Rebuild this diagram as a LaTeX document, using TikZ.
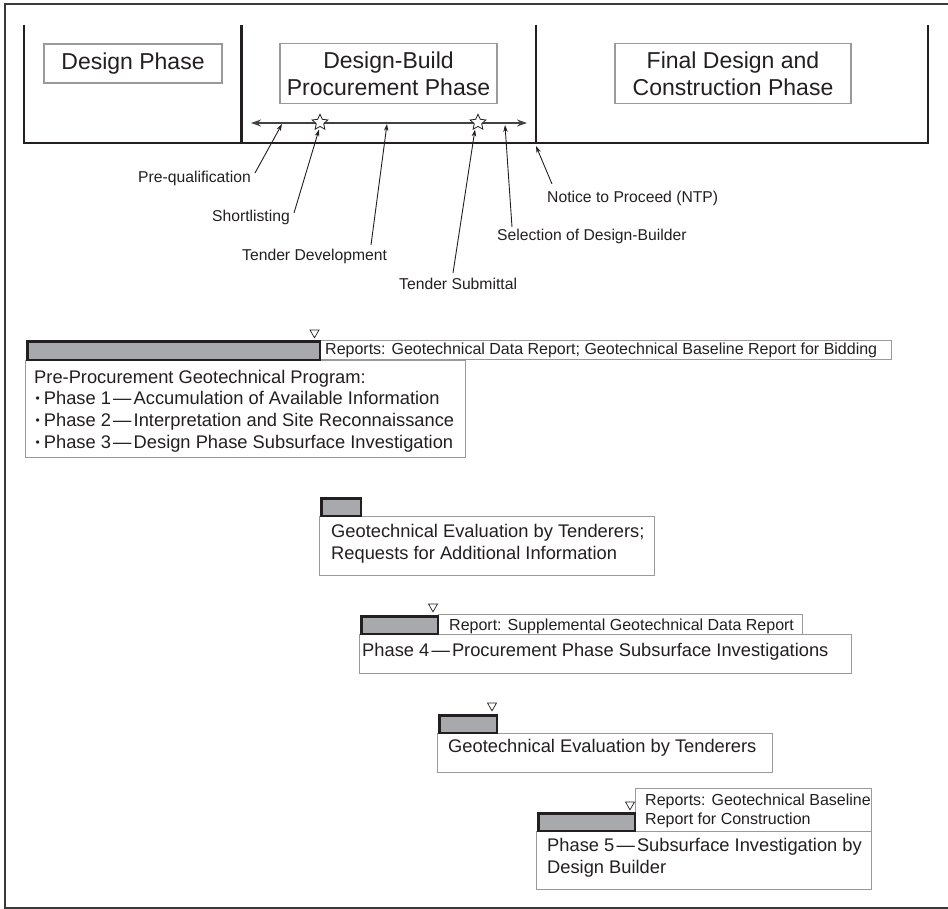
\documentclass[tikz,border=0pt]{standalone}
\usepackage{fontspec}
\setmainfont{Liberation Sans}
\usetikzlibrary{shapes.geometric,arrows.meta}
\definecolor{ink}{HTML}{231F20}
\definecolor{boxgray}{HTML}{9A9A9A}
\definecolor{barfill}{HTML}{A7A9AC}
\definecolor{framegray}{HTML}{3A3A3A}
\newcommand{\dsh}{\hspace{0.12em}—\hspace{0.12em}}
\newcommand{\smbul}{\hspace{1.5pt}{\fontsize{12}{12}\selectfont\raisebox{1.8pt}{•}}\hspace{4pt}}
\begin{document}
\begin{tikzpicture}[x=1pt,y=-1pt,
  hdrline/.style={draw=ink,line width=2.8pt},
  framel/.style={draw=framegray,line width=2pt},
  hdrbox/.style={draw=boxgray,line width=1.2pt,align=center,font=\fontsize{23}{27}\selectfont,text=ink,inner sep=0},
  gbox/.style={draw=boxgray,line width=1.2pt,fill=white,anchor=north west,inner sep=0},
  bar/.style={draw=ink,line width=2.5pt,fill=barfill,anchor=north west,inner sep=0},
  boxtxt/.style={font=\fontsize{18.3}{21.7}\selectfont,text=ink,inner sep=0,anchor=base west},
  reptxt/.style={font=\fontsize{16}{19}\selectfont,text=ink,inner sep=0,anchor=base west},
  lbl/.style={font=\fontsize{15.7}{18}\selectfont,text=ink,inner sep=0},
  leader/.style={draw=ink,line width=0.9pt,-{Stealth[length=7pt,width=4.5pt]}},
  tri/.style={regular polygon,regular polygon sides=3,shape border rotate=180,draw=ink,fill=white,line width=0.7pt,minimum size=10.4pt,inner sep=0},
  starn/.style={star,star points=5,star point ratio=2.1,minimum size=16.5pt,inner sep=0,draw=ink,fill=white,line width=0.8pt}
]
\useasboundingbox (0,0) rectangle (948,909);
% outer frame
\draw[framel] (950,4) -- (5,4) -- (5,907.5) -- (950,907.5);
% header
\draw[hdrline] (24,25) -- (24,143) -- (928,143) -- (928,25);
\draw[hdrline] (241.5,25) -- (241.5,143);
\draw[hdrline] (536,25) -- (536,143);
\node[hdrbox,minimum width=178pt,minimum height=39pt] (dp) at (133,63.5) {Design Phase};
\node[hdrbox,minimum width=217pt,minimum height=60pt] (dbp) at (388.5,73.5) {Design-Build\\Procurement Phase};
\node[hdrbox,minimum width=236pt,minimum height=60pt] (fdc) at (733,73.5) {Final Design and\\Construction Phase};
% timeline
\coordinate (aL) at (251,123);
\coordinate (aR) at (527,123);
\draw[draw=ink!85,line width=1.6pt,{Stealth[length=10pt,width=7pt]}-{Stealth[length=10pt,width=7pt]}] (aL) -- (aR);
\node[starn] (s1) at (320,122.5) {};
\node[starn] (s2) at (478,122.5) {};
% labels
\node[lbl,anchor=base east] (pq) at (251,182.6) {Pre-qualification};
\node[lbl,anchor=base east] (sl) at (290,221.6) {Shortlisting};
\node[lbl,anchor=base west] (td) at (242,260.6) {Tender Development};
\node[lbl,anchor=base west] (ts) at (399,289.6) {Tender Submittal};
\node[lbl,anchor=base west] (sel) at (497,240.6) {Selection of Design-Builder};
\node[lbl,anchor=base west] (ntp) at (547,202.6) {Notice to Proceed (NTP)};
\coordinate (pqS) at (255,173); \coordinate (pqT) at (282,124);
\coordinate (slS) at (294,213); \coordinate (slT) at (319,129.5);
\coordinate (tdS) at (371,245); \coordinate (tdT) at (387,124);
\coordinate (tsS) at (453,273); \coordinate (tsT) at (475,129.5);
\coordinate (selS) at (512,227); \coordinate (selT) at (505,125);
\coordinate (ntpS) at (552,184); \coordinate (ntpT) at (536,146);
\draw[leader] (pqS) -- (pqT);
\draw[leader] (slS) -- (slT);
\draw[leader] (tdS) -- (tdT);
\draw[leader] (tsS) -- (tsT);
\draw[leader] (selS) -- (selT);
\draw[leader] (ntpS) -- (ntpT);
% pre-procurement
\node[gbox,minimum width=571pt,minimum height=19pt] (r1) at (320,340) {};
\node[gbox,minimum width=440pt,minimum height=97pt] (pp) at (25,360) {};
\node[bar,minimum width=292.5pt,minimum height=18.5pt] (b1) at (26.25,340.25) {};
\node[tri] (t1) at (314.5,332.6) {};
\node[reptxt] (r1t) at (325,354.5) {Reports: Geotechnical Data Report; Geotechnical Baseline Report for Bidding};
\node[boxtxt] (pp1) at (34,383.5) {Pre-Procurement Geotechnical Program:};
\node[boxtxt] (pp2) at (34,404.5) {\smbul Phase 1\dsh Accumulation of Available Information};
\node[boxtxt] (pp3) at (34,426.5) {\smbul Phase 2\dsh Interpretation and Site Reconnaissance};
\node[boxtxt] (pp4) at (34,448.5) {\smbul Phase 3\dsh Design Phase Subsurface Investigation};
% evaluation 1
\node[gbox,minimum width=335pt,minimum height=59pt] (e1) at (319,516) {};
\node[bar,minimum width=39.5pt,minimum height=17.5pt] (b2) at (320.25,497.25) {};
\node[boxtxt] (e1a) at (331,537.5) {Geotechnical Evaluation by Tenderers;};
\node[boxtxt] (e1b) at (331,559) {Requests for Additional Information};
% phase 4
\node[gbox,minimum width=364pt,minimum height=20pt] (r3) at (438,614) {};
\node[gbox,minimum width=492pt,minimum height=39pt] (p4) at (359,634) {};
\node[bar,minimum width=76.5pt,minimum height=17.5pt] (b3) at (360.25,615.25) {};
\node[tri] (t3) at (433,606.6) {};
\node[reptxt] (r3t) at (449,630.5) {Report: Supplemental Geotechnical Data Report};
\node[boxtxt] (p4t) at (362,656.5) {Phase 4\dsh Procurement Phase Subsurface Investigations};
% evaluation 2
\node[gbox,minimum width=335pt,minimum height=39pt] (e2) at (437,733) {};
\node[bar,minimum width=57.5pt,minimum height=17.5pt] (b4) at (438.25,714.25) {};
\node[tri] (t4) at (492,705.6) {};
\node[boxtxt] (e2t) at (448,752.5) {Geotechnical Evaluation by Tenderers};
% phase 5
\node[gbox,minimum width=236pt,minimum height=43pt] (r5) at (635,788) {};
\node[gbox,minimum width=335pt,minimum height=58pt] (p5) at (536,831) {};
\node[bar,minimum width=96.5pt,minimum height=17.5pt] (b5) at (537.25,812.25) {};
\node[tri] (t5) at (630,804.6) {};
\node[reptxt] (r5a) at (645,805.5) {Reports: Geotechnical Baseline};
\node[reptxt] (r5b) at (645,824.5) {Report for Construction};
\node[boxtxt] (p5a) at (547,851.5) {Phase 5\dsh Subsurface Investigation by};
\node[boxtxt] (p5b) at (547,873.5) {Design Builder};
\end{tikzpicture}
\end{document}
